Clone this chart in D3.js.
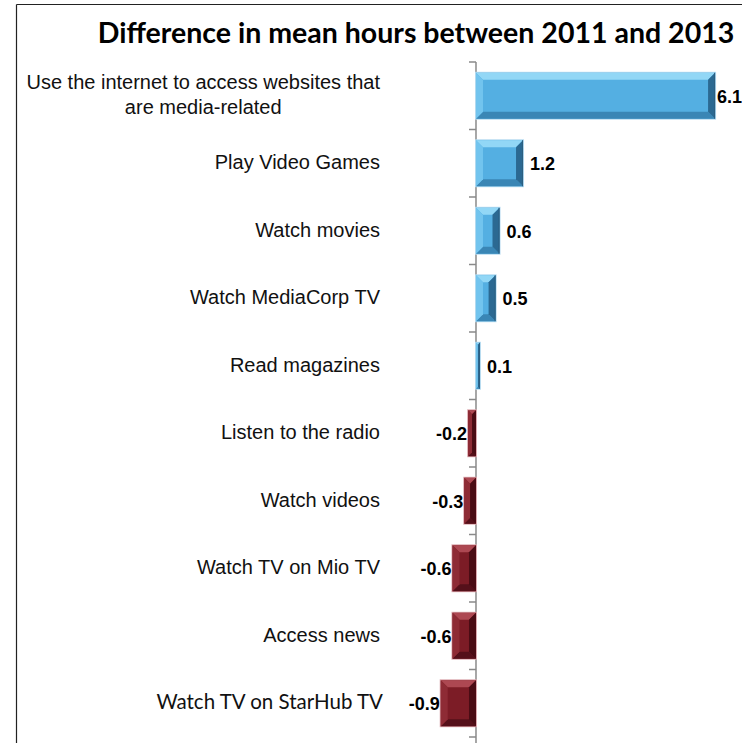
<!DOCTYPE html>
<html>
<head>
<meta charset="utf-8">
<script src="https://cdn.jsdelivr.net/npm/d3@7"></script>
<style>
  body { margin: 0; background: #fff; }
</style>
</head>
<body>
<div id="chart"></div>
<script>
var title = "Difference in mean hours between 2011 and 2013";
var categories = [
  "Use the internet to access websites that are media-related",
  "Play Video Games",
  "Watch movies",
  "Watch MediaCorp TV",
  "Read magazines",
  "Listen to the radio",
  "Watch videos",
  "Watch TV on Mio TV",
  "Access news",
  "Watch TV on StarHub TV"
];
var values = [6.1, 1.2, 0.6, 0.5, 0.1, -0.2, -0.3, -0.6, -0.6, -0.9];

var width = 742, height = 743;

var svg = d3.select('#chart').append('svg')
    .attr('width', width)
    .attr('height', height);

// frame (only top and left show in the picture)
svg.append('line').attr('x1', 16.5).attr('x2', width).attr('y1', 4.5).attr('y2', 4.5)
    .attr('stroke', '#222').attr('stroke-width', 1.2);
svg.append('line').attr('x1', 16.5).attr('x2', 16.5).attr('y1', 4.5).attr('y2', height)
    .attr('stroke', '#222').attr('stroke-width', 1.2);

var x = d3.scaleLinear().domain([-1, 6.2]).range([436.8, 719]);
var y = d3.scaleBand().domain(categories).range([62, 737])
    .paddingInner(0.32).paddingOuter(0.16);

// title, fit to the width it takes in the original
var t = svg.append('text')
    .attr('x', 416).attr('y', 43)
    .attr('text-anchor', 'middle')
    .style('font-family', 'Lato, "Open Sans", sans-serif')
    .style('font-weight', 'bold')
    .style('font-size', '26px')
    .text(title);
var tl = t.node().getComputedTextLength();
t.style('font-size', (26 * 637 / tl) + 'px');

// axis line and ticks at category boundaries
var x0 = x(0);
svg.append('line')
    .attr('x1', x0).attr('x2', x0)
    .attr('y1', y.range()[0]).attr('y2', height)
    .attr('stroke', '#8a8a8a').attr('stroke-width', 1.5);
var bounds = d3.range(categories.length + 1).map(function (i) {
  return y.range()[0] + i * y.step();
});
svg.selectAll('line.tick').data(bounds).enter().append('line')
    .attr('class', 'tick')
    .attr('x1', x0 - 7).attr('x2', x0)
    .attr('y1', function (d) { return d; })
    .attr('y2', function (d) { return d; })
    .attr('stroke', '#8a8a8a').attr('stroke-width', 1.5);

// bevelled bars
var blue = { edge: '#b3d9ef', base: '#54afe2', top: '#92d7f6', left: '#72c4ee', bottom: '#3a86b5', right: '#2b6992', line: '#2d5f80' };
var red = { edge: '#dcaab0', base: '#7c1c26', top: '#ad4852', left: '#8e2b35', bottom: '#55101a', right: '#4a0c14', line: '#5a1a20' };

var data = categories.map(function (c, i) { return { cat: c, v: values[i] }; });

var bars = svg.selectAll('g.bar').data(data).enter().append('g').attr('class', 'bar');

bars.each(function (d) {
  var g = d3.select(this);
  var c = d.v >= 0 ? blue : red;
  var bx = x(Math.min(0, d.v)), bw = Math.abs(x(d.v) - x(0));
  var by = y(d.cat), bh = y.bandwidth();
  var b = Math.min(7, bw / 2, bh / 2);

  g.append('rect').attr('x', bx - 1).attr('y', by - 1)
      .attr('width', bw + 2).attr('height', bh + 2)
      .attr('fill', c.edge);
  g.append('rect').attr('x', bx).attr('y', by)
      .attr('width', bw).attr('height', bh)
      .attr('fill', c.base);

  var faces = [
    { fill: c.top, pts: [[bx, by], [bx + bw, by], [bx + bw - b, by + b], [bx + b, by + b]] },
    { fill: c.bottom, pts: [[bx, by + bh], [bx + bw, by + bh], [bx + bw - b, by + bh - b], [bx + b, by + bh - b]] },
    { fill: c.left, pts: [[bx, by], [bx + b, by + b], [bx + b, by + bh - b], [bx, by + bh]] },
    { fill: c.right, pts: [[bx + bw, by], [bx + bw - b, by + b], [bx + bw - b, by + bh - b], [bx + bw, by + bh]] }
  ];
  g.selectAll('polygon').data(faces).enter().append('polygon')
      .attr('points', function (f) { return f.pts.map(function (p) { return p.join(','); }).join(' '); })
      .attr('fill', function (f) { return f.fill; });
  if (d.v >= 0) {
    g.append('line').attr('x1', bx + bw - 0.5).attr('x2', bx + bw - 0.5)
        .attr('y1', by).attr('y2', by + bh)
        .attr('stroke', c.line).attr('stroke-width', 1);
  }
});

// value labels (plain hyphen for the minus, as in the original)
var fmt = function (v) { return v.toFixed(1); };
svg.selectAll('text.val').data(data).enter().append('text')
    .attr('class', 'val')
    .attr('y', function (d) { return y(d.cat) + y.bandwidth() / 2 + 7; })
    .attr('text-anchor', function (d) { return d.v >= 0 ? 'start' : 'end'; })
    .style('font-family', 'Arial, "Liberation Sans", sans-serif')
    .style('font-weight', 'bold')
    .style('font-size', '18px')
    .attr('fill', '#000')
    .text(function (d) { return fmt(d.v); })
    .attr('x', function (d) {
      if (d.v < 0) return x(d.v) - 1;
      var w = this.getComputedTextLength();
      return Math.min(x(d.v) + 7, width - w);
    });

// category labels, right aligned at 380, wrapped lines centred
var labelRight = 380, maxW = 366;
svg.selectAll('text.cat').data(data).enter().append('text')
    .attr('class', 'cat')
    .style('font-family', function (d, i) {
      return i === categories.length - 1 ? 'Lato, "Open Sans", sans-serif' : 'Arial, "Liberation Sans", sans-serif';
    })
    .style('font-size', function (d, i) { return i === categories.length - 1 ? '20.5px' : '20px'; })
    .attr('fill', '#111')
    .each(function (d) {
      var el = d3.select(this);
      var words = d.cat.split(' ');
      var lines = [], line = [];
      var probe = el.append('tspan');
      words.forEach(function (w) {
        line.push(w);
        probe.text(line.join(' '));
        if (probe.node().getComputedTextLength() > maxW && line.length > 1) {
          line.pop();
          lines.push(line.join(' '));
          line = [w];
        }
      });
      lines.push(line.join(' '));
      probe.remove();
      var cy = y(d.cat) + y.bandwidth() / 2 + 6;
      var lh = 25;
      var top = cy - (lines.length - 1) * lh / 2;
      if (lines.length === 1) {
        el.attr('text-anchor', 'end');
        el.append('tspan').attr('x', labelRight + (d.cat === categories[categories.length - 1] ? 3 : 0))
            .attr('y', cy).text(lines[0]);
      } else {
        var widths = lines.map(function (l) {
          var s = el.append('tspan').text(l);
          var wl = s.node().getComputedTextLength();
          s.remove();
          return wl;
        });
        var mid = labelRight - d3.max(widths) / 2;
        el.attr('text-anchor', 'middle');
        lines.forEach(function (l, k) {
          el.append('tspan').attr('x', mid).attr('y', top + k * lh).text(l);
        });
      }
    });
</script>
</body>
</html>
